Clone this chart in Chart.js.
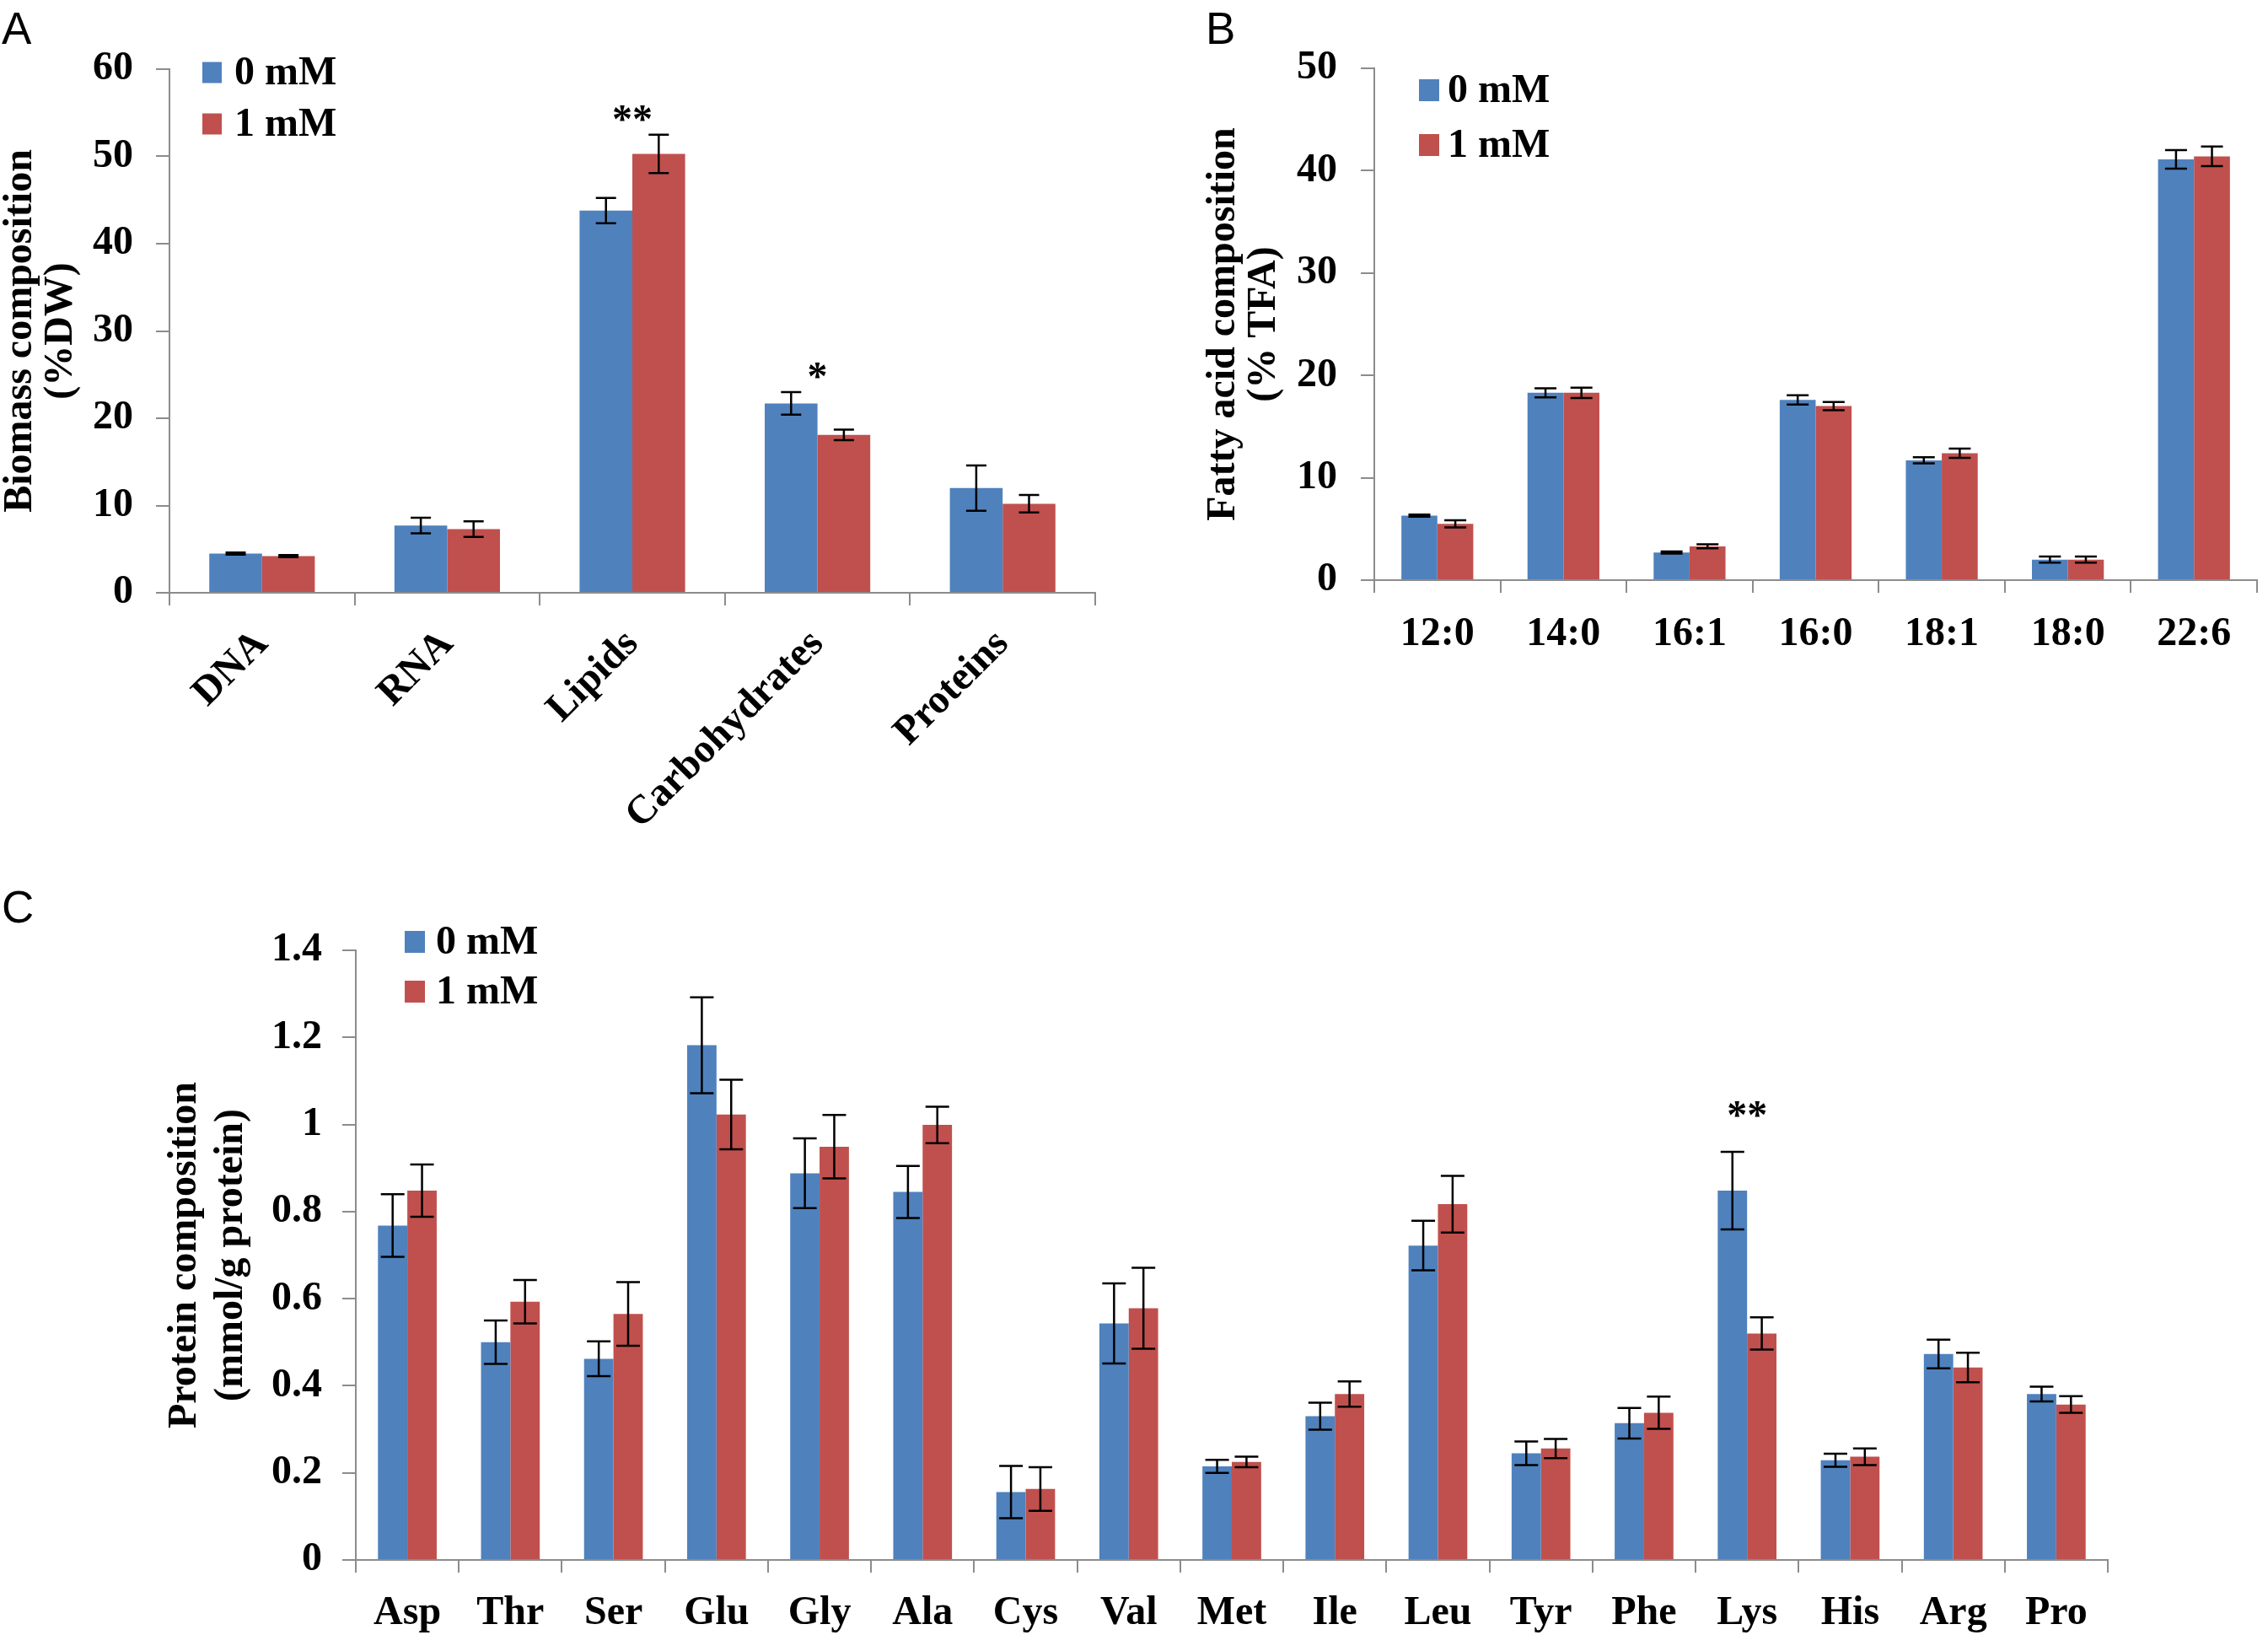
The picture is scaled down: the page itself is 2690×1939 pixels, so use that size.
<!DOCTYPE html>
<html><head><meta charset="utf-8">
<script src="https://cdn.jsdelivr.net/npm/chart.js@4.4.1/dist/chart.umd.min.js"></script>
<style>
html,body{margin:0;padding:0;background:#fff;}
body{width:2690px;height:1939px;position:relative;overflow:hidden;}
canvas{position:absolute;}
.lbl{position:absolute;font-family:'Liberation Sans',Arial,sans-serif;font-size:53px;color:#000;line-height:1;}
</style></head><body>
<div class="lbl" style="left:2px;top:7px">A</div>
<div class="lbl" style="left:1430px;top:7px">B</div>
<div class="lbl" style="left:2px;top:1049px">C</div>
<canvas id="ca" width="1340" height="1030" style="left:0;top:0"></canvas>
<canvas id="cb" width="1270" height="800" style="left:1420px;top:0"></canvas>
<canvas id="cc" width="2690" height="899" style="left:0;top:1040px"></canvas>
<script>
// ---------- DATA ----------
const seriesNames = ['0 mM', '1 mM'];

const catsA = ['DNA', 'RNA', 'Lipids', 'Carbohydrates', 'Proteins'];
const a0 = [4.5, 7.7, 43.8, 21.7, 12.0];
const a0err = [0.12, 0.9, 1.45, 1.3, 2.6];
const a1 = [4.2, 7.3, 50.3, 18.1, 10.2];
const a1err = [0.12, 0.9, 2.2, 0.6, 1.0];
const starsA = ['', '', '**', '*', ''];
const yTicksA = [0, 10, 20, 30, 40, 50, 60];
const yLabelsA = ['0', '10', '20', '30', '40', '50', '60'];

const catsB = ['12:0', '14:0', '16:1', '16:0', '18:1', '18:0', '22:6'];
const b0 = [6.3, 18.3, 2.7, 17.6, 11.7, 2.0, 41.1];
const b0err = [0.1, 0.45, 0.1, 0.45, 0.3, 0.3, 0.9];
const b1 = [5.5, 18.3, 3.3, 17.0, 12.4, 2.0, 41.4];
const b1err = [0.35, 0.5, 0.2, 0.4, 0.45, 0.3, 0.95];
const yTicksB = [0, 10, 20, 30, 40, 50];
const yLabelsB = ['0', '10', '20', '30', '40', '50'];

const catsC = ['Asp', 'Thr', 'Ser', 'Glu', 'Gly', 'Ala', 'Cys', 'Val', 'Met', 'Ile', 'Leu', 'Tyr', 'Phe', 'Lys', 'His', 'Arg', 'Pro'];
const c0 = [0.768, 0.500, 0.462, 1.182, 0.888, 0.845, 0.156, 0.543, 0.215, 0.330, 0.722, 0.245, 0.314, 0.848, 0.229, 0.473, 0.381];
const c0err = [0.072, 0.05, 0.04, 0.11, 0.08, 0.06, 0.06, 0.092, 0.015, 0.031, 0.057, 0.027, 0.035, 0.089, 0.015, 0.033, 0.017];
const c1 = [0.848, 0.593, 0.565, 1.023, 0.949, 0.999, 0.163, 0.578, 0.225, 0.381, 0.817, 0.256, 0.338, 0.520, 0.237, 0.442, 0.357];
const c1err = [0.06, 0.05, 0.073, 0.08, 0.073, 0.042, 0.05, 0.093, 0.012, 0.029, 0.065, 0.022, 0.037, 0.037, 0.019, 0.034, 0.019];
const starsC = ['', '', '', '', '', '', '', '', '', '', '', '', '', '**', '', '', ''];
const yTicksC = [0, 0.2, 0.4, 0.6, 0.8, 1, 1.2, 1.4];
const yLabelsC = ['0', '0.2', '0.4', '0.6', '0.8', '1', '1.2', '1.4'];

// ---------- STYLE ----------
const BLUE = '#4F81BD', RED = '#C0504D', AXIS = '#8C8C8C';
const SERIF = "'Liberation Serif', 'Times New Roman', serif";
const F48 = { family: SERIF, size: 48, weight: 'bold' };

function makePlugins(stars, starGap, legend, capHalf) {
  return [{
    id: 'extras',
    afterDatasetsDraw(chart) {
      const ctx = chart.ctx, xs = chart.scales.x, ys = chart.scales.y;
      ctx.save();
      ctx.strokeStyle = '#000';
      ctx.lineWidth = 2.5;
      chart.data.datasets.forEach((ds, i) => {
        const meta = chart.getDatasetMeta(i);
        meta.data.forEach((bar, j) => {
          const v = ds.data[j], e = ds.errors[j];
          const yt = ys.getPixelForValue(v + e), yb = ys.getPixelForValue(v - e);
          ctx.beginPath();
          ctx.moveTo(bar.x, yt); ctx.lineTo(bar.x, yb);
          ctx.moveTo(bar.x - capHalf, yt); ctx.lineTo(bar.x + capHalf, yt);
          ctx.moveTo(bar.x - capHalf, yb); ctx.lineTo(bar.x + capHalf, yb);
          ctx.stroke();
        });
      });
      if (stars) {
        ctx.fillStyle = '#000';
        ctx.font = 'bold 48px ' + SERIF;
        ctx.textAlign = 'center';
        ctx.textBaseline = 'alphabetic';
        stars.forEach((m, j) => {
          if (!m) return;
          let top = -Infinity;
          chart.data.datasets.forEach(ds => { top = Math.max(top, ds.data[j] + ds.errors[j]); });
          ctx.fillText(m, xs.getPixelForValue(j), ys.getPixelForValue(top) - starGap);
        });
      }
      ctx.restore();
    },
    afterDraw(chart) {
      const ctx = chart.ctx;
      ctx.save();
      ctx.font = 'bold 48px ' + SERIF;
      ctx.textAlign = 'left';
      ctx.textBaseline = 'middle';
      chart.data.datasets.forEach((ds, i) => {
        const cy = legend.ys[i];
        ctx.fillStyle = ds.backgroundColor;
        ctx.fillRect(legend.bx, cy - legend.size / 2, legend.size - 2, legend.size);
        ctx.fillStyle = '#000';
        ctx.fillText(ds.label, legend.tx, cy + 2);
      });
      ctx.restore();
    }
  }];
}

function makeChart(id, cats, d0, e0, d1, e1, yTicks, yLabels, yMax, title, lay) {
  return new Chart(document.getElementById(id), {
    type: 'bar',
    data: {
      labels: cats,
      datasets: [
        { label: seriesNames[0], data: d0, errors: e0, backgroundColor: BLUE, borderWidth: 0, categoryPercentage: 0.57, barPercentage: 1.0 },
        { label: seriesNames[1], data: d1, errors: e1, backgroundColor: RED, borderWidth: 0, categoryPercentage: 0.57, barPercentage: 1.0 }
      ]
    },
    options: {
      responsive: false,
      animation: false,
      devicePixelRatio: 1,
      layout: { padding: { left: 0, top: lay.top, right: lay.right, bottom: 0 } },
      plugins: { legend: { display: false }, tooltip: { enabled: false }, title: { display: false } },
      scales: {
        x: {
          type: 'category',
          afterFit: s => { s.height = lay.xh; },
          grid: { offset: true, drawOnChartArea: false, drawTicks: true, tickLength: 15, color: AXIS, lineWidth: 2 },
          border: { display: true, color: AXIS, width: 2 },
          ticks: { color: '#000', font: F48, autoSkip: false, maxRotation: lay.rot, minRotation: lay.rot, padding: lay.xpad }
        },
        y: {
          min: 0, max: yMax,
          afterFit: s => { s.width = lay.yw; },
          afterBuildTicks: s => { s.ticks = yTicks.map(v => ({ value: v })); },
          grid: { drawOnChartArea: false, drawTicks: true, tickLength: 16, color: AXIS, lineWidth: 2 },
          border: { display: true, color: AXIS, width: 2 },
          ticks: { color: '#000', font: F48, padding: lay.ypad, callback: (v, i) => yLabels[i] },
          title: { display: true, text: title, color: '#000', font: { family: SERIF, size: 48, weight: 'bold', lineHeight: lay.tlh }, padding: { top: lay.tpad, bottom: 0 } }
        }
      }
    },
    plugins: makePlugins(lay.stars, lay.starGap, lay.legend, lay.cap)
  });
}

makeChart('ca', catsA, a0, a0err, a1, a1err, yTicksA, yLabelsA, 60, ['Biomass composition', '(%DW)'],
  { top: 82, right: 41, xh: 327, yw: 201, rot: 45, xpad: 18, ypad: 27, tlh: 1.0, tpad: 1,
    stars: starsA, starGap: 3, cap: 12, legend: { bx: 240, size: 25, ys: [86, 147], tx: 278 } });

makeChart('cb', catsB, b0, b0err, b1, b1err, yTicksB, yLabelsB, 50, ['Fatty acid composition', '(% TFA)'],
  { top: 81, right: 13, xh: 112, yw: 210, rot: 0, xpad: 21, ypad: 28, tlh: 1.0, tpad: 8,
    stars: null, starGap: 0, cap: 13, legend: { bx: 263, size: 26, ys: [107, 172], tx: 297 } });

makeChart('cc', catsC, c0, c0err, c1, c1err, yTicksC, yLabelsC, 1.4, ['Protein composition', '(mmol/g protein)'],
  { top: 87, right: 190, xh: 89, yw: 422, rot: 0, xpad: 20, ypad: 24, tlh: 1.15, tpad: 192,
    stars: starsC, starGap: 28, cap: 14, legend: { bx: 480, size: 26, ys: [77, 136], tx: 517 } });
</script>
</body></html>
